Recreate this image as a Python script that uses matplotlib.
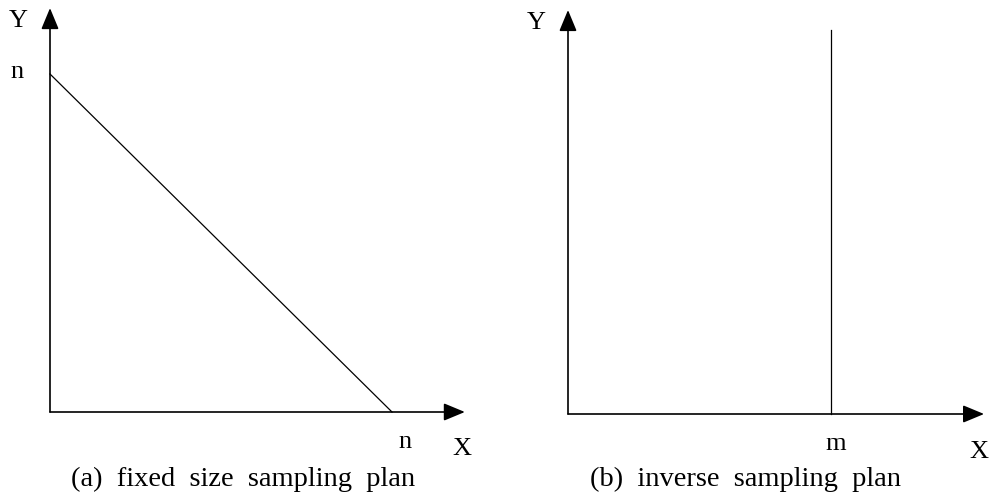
import matplotlib
matplotlib.use('Agg')
import matplotlib.pyplot as plt

# left diagram: fixed size sampling, X + Y = n
n = 1.0
fixed_x = [0.0, n]
fixed_y = [n, 0.0]

# right diagram: inverse sampling, X = m
m = 1.0
inverse_x = [m, m]
inverse_y = [0.0, 1.0]

captions = ['(a)  fixed  size  sampling  plan', '(b)  inverse  sampling  plan']

plt.rcParams['font.family'] = ['Liberation Serif', 'DejaVu Serif']

W, H = 994, 497
fig = plt.figure(figsize=(W / 100, H / 100), dpi=100)

arrow_style = dict(arrowstyle='-|>,head_length=0.65,head_width=0.27',
                   mutation_scale=20, lw=1.2, color='black',
                   shrinkA=0, shrinkB=0)


def px_axes(x0, y0, w, h):
    # axes placed by pixel box (origin top-left)
    ax = fig.add_axes([x0 / W, (H - y0 - h) / H, w / W, h / H])
    ax.set_xlim(0, 1)
    ax.set_ylim(0, 1)
    ax.axis('off')
    return ax


def draw_axes(ax, x_tip, y_tip):
    ax.annotate('', xy=(x_tip, 0), xytext=(0, 0), arrowprops=arrow_style,
                annotation_clip=False)
    ax.annotate('', xy=(0, y_tip), xytext=(0, 0), arrowprops=arrow_style,
                annotation_clip=False)


def label(ax, s, xy, off, size=19):
    ax.annotate(s, xy=xy, xytext=off, textcoords='offset pixels',
                ha='center', va='baseline', fontsize=size,
                annotation_clip=False)


# (a)
ax1 = px_axes(50, 74, 342, 338)
draw_axes(ax1, 1.213, 1.195)
ax1.plot(fixed_x, fixed_y, color='black', lw=0.9, clip_on=False)
label(ax1, 'Y', (0, 1.195), (-32, -19))
label(ax1, 'X', (1.213, 0), (-3, -43))
label(ax1, 'n', (0, n), (-33, -4))
label(ax1, 'n', (n, 0), (13, -36))

# (b)
ax2 = px_axes(568, 30, 263, 384)
draw_axes(ax2, 1.582, 1.052)
ax2.plot(inverse_x, inverse_y, color='black', lw=0.9, clip_on=False)
label(ax2, 'Y', (0, 1.052), (-32, -19))
label(ax2, 'X', (1.582, 0), (-5, -44))
label(ax2, 'm', (m, 0), (5, -36))

fig.text(243 / W, 1 - 486 / H, captions[0], ha='center', va='baseline', fontsize=20.5)
fig.text(746 / W, 1 - 486 / H, captions[1], ha='center', va='baseline', fontsize=20.5)

fig.savefig('out.png', dpi=100)
